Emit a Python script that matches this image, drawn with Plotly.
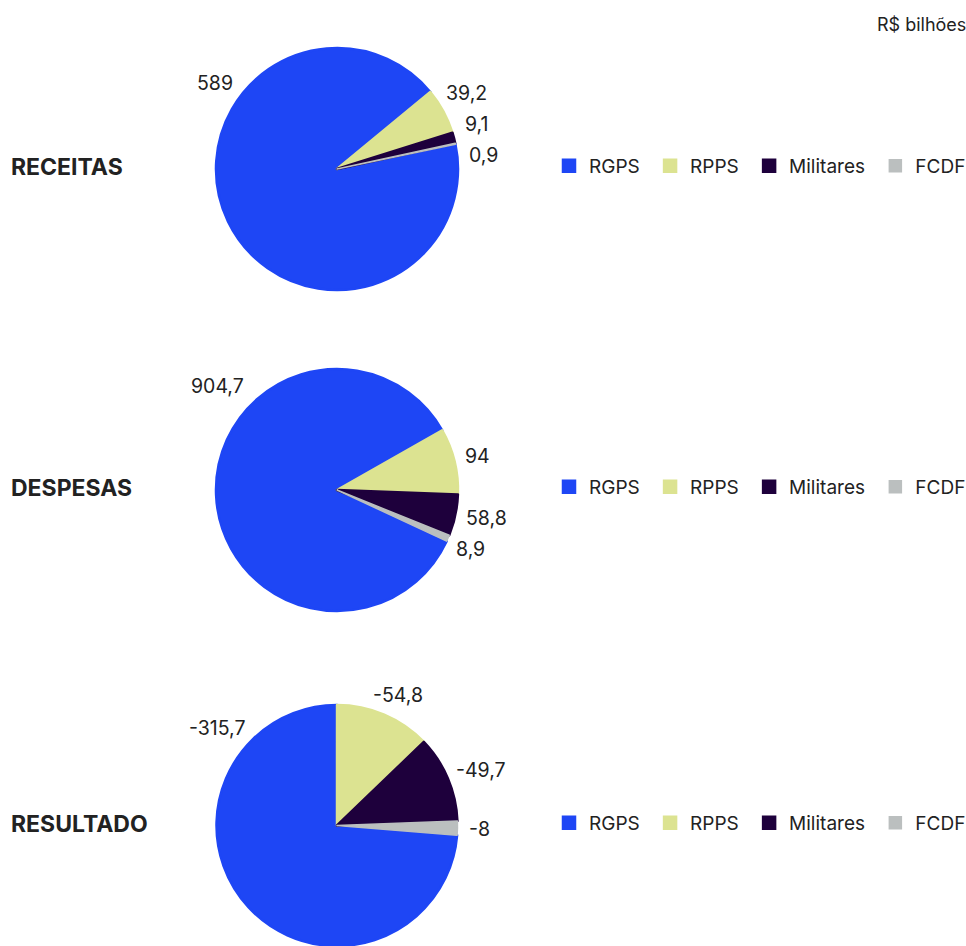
import math
import plotly.graph_objects as go

# ---- data ----
categories = ["RGPS", "RPPS", "Militares", "FCDF"]
panel_titles = ["RECEITAS", "DESPESAS", "RESULTADO"]
receitas = [589, 39.2, 9.1, 0.9]
despesas = [904.7, 94, 58.8, 8.9]
resultado = [-315.7, -54.8, -49.7, -8]
unit_label = "R$ bilhões"

series = [receitas, despesas, resultado]

# ---- style ----
W, H = 966, 946
colors = ["#1E46F5", "#DCE391", "#1E003C", "#BBBFBF"]
line_widths = [2.5, 2.5, 2.5, 1.5]
FONT = "Inter"
TXT = "#222222"
centers_px = [(337, 169), (337, 490), (337, 826)]
R = 121
rotations = [78.2, 115, 94.6]          # clockwise start angle of the first slice
big_label_offsets = [(-122, -86), (-120, -104), (-120, -98)]  # px from pie centre
LABEL_GAP = 12
LABEL_SPACING = 31
LABEL_SIZE = 19.5
CHAR_W = {",": 5.4, "-": 8.0}
DIGIT_W = 11.4
HALF_H = 9


def fmt(v):
    return f"{v:g}".replace(".", ",")


def text_w(s):
    return sum(CHAR_W.get(ch, DIGIT_W) for ch in s)


def px_to_paper(x, y):
    return x / W, 1 - y / H


fig = go.Figure()
legend_names = ["legend", "legend2", "legend3"]
for i, vals in enumerate(series):
    cx, cy = centers_px[i]
    x0, x1 = (cx - R) / W, (cx + R) / W
    y0, y1 = max(0, 1 - (cy + R) / H), 1 - (cy - R) / H
    sizes = [abs(v) for v in vals]
    # distinct (invisible) suffix per panel so each legend lists every category
    labels = [c + ("\u00a0" if k < len(categories) - 1 else "") + "\u200b" * i
              for k, c in enumerate(categories)]
    fig.add_trace(go.Pie(
        labels=labels,
        values=sizes,
        textinfo="none",
        sort=False,
        direction="clockwise",
        rotation=rotations[i],
        marker=dict(colors=colors, line=dict(color=colors, width=line_widths)),
        domain=dict(x=[x0, x1], y=[y0, y1]),
        legend=legend_names[i],
        hoverinfo="label+value",
        showlegend=True,
    ))

    # ---- value labels ----
    total = sum(sizes)
    start = 90 - rotations[i]          # math angle where first slice starts
    acc = 0
    side = []
    rr = R + LABEL_GAP
    for k, s in enumerate(sizes):
        mid = start - (acc + s / 2) / total * 360
        acc += s
        txt = fmt(vals[k])
        if k == 0:
            dx, dy = big_label_offsets[i]
            ax, ay = px_to_paper(cx + dx, cy + dy)
            fig.add_annotation(x=ax, y=ay, xref="paper", yref="paper",
                               text=txt, showarrow=False,
                               font=dict(family=FONT, size=LABEL_SIZE, color=TXT),
                               xanchor="center", yanchor="middle")
            continue
        a = math.radians(mid)
        yc = cy - (rr + HALF_H) * math.sin(a)
        side.append([yc, k, txt])
    side.sort()
    for _ in range(200):
        for j in range(len(side) - 1):
            d = side[j + 1][0] - side[j][0]
            if d < LABEL_SPACING:
                push = (LABEL_SPACING - d) / 2
                side[j][0] -= push
                side[j + 1][0] += push
    for yc, k, txt in side:
        sphi = max(-1.0, min(1.0, (cy - yc) / (rr + HALF_H)))
        cphi = math.sqrt(1 - sphi * sphi)
        xc = cx + (rr + text_w(txt) / 2) * cphi
        ax, ay = px_to_paper(xc, yc)
        fig.add_annotation(x=ax, y=ay, xref="paper", yref="paper",
                           text=txt, showarrow=False,
                           font=dict(family=FONT, size=LABEL_SIZE, color=TXT),
                           xanchor="center", yanchor="middle")

    # panel title
    tx, ty = px_to_paper(10, cy - 2)
    fig.add_annotation(x=tx, y=ty, xref="paper", yref="paper",
                       text=f"<b>{panel_titles[i]}</b>", showarrow=False,
                       font=dict(family=FONT, size=23, color=TXT),
                       xanchor="left", yanchor="middle", xshift=-1)

ux, uy = px_to_paper(W, 25)
fig.add_annotation(x=ux, y=uy, xref="paper", yref="paper",
                   text=unit_label, showarrow=False,
                   font=dict(family=FONT, size=18, color=TXT),
                   xanchor="right", yanchor="middle", xshift=2)

leg_common = dict(orientation="h", font=dict(family=FONT, size=19, color=TXT),
                  xanchor="left", yanchor="middle", bgcolor="rgba(0,0,0,0)",
                  itemclick=False, itemdoubleclick=False)
layout_legends = {}
for i, name in enumerate(legend_names):
    cx, cy = centers_px[i]
    lx, ly = px_to_paper(549, cy - 3)
    layout_legends[name] = dict(x=lx, y=ly, **leg_common)

fig.update_layout(
    width=W, height=H,
    margin=dict(l=0, r=0, t=0, b=0, autoexpand=False),
    paper_bgcolor="white", plot_bgcolor="white",
    font=dict(family=FONT, color=TXT),
    **layout_legends,
)

fig.write_html("out.html")
